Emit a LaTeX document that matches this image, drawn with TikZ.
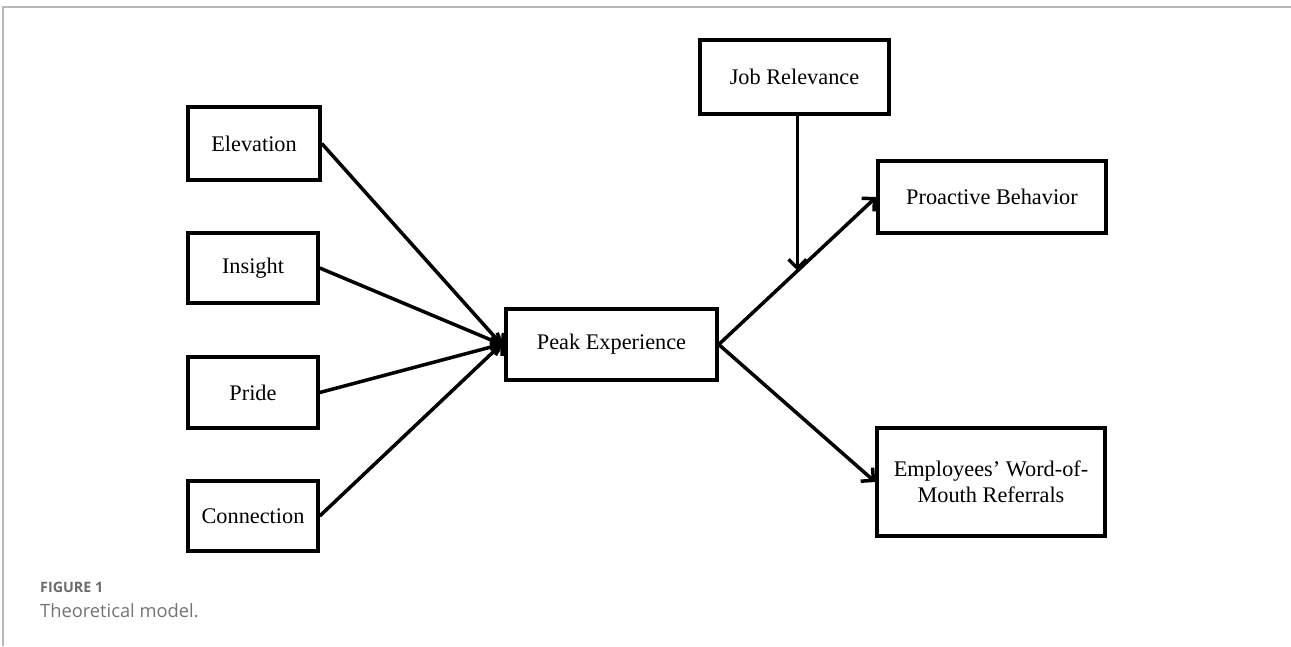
\documentclass[tikz,border=0pt]{standalone}
\usepackage{fontspec}
\setmainfont{Liberation Serif}
\newfontfamily\capfont{Open Sans}
\usetikzlibrary{arrows.meta,calc}
\begin{document}
\begin{tikzpicture}[x=1pt,y=-1pt,
  box/.style={draw=black,line width=3.5pt,align=center,inner sep=0pt,font=\fontsize{22.3}{26.5}\selectfont},
  conn/.style={line width=3.5pt,-{Straight Barb[length=9pt,width=18pt,line width=3.5pt]}},
  frame/.style={draw=black!28,line width=2pt}]
\useasboundingbox (0,0) rectangle (1291,646);
\draw[frame] (3,646) -- (3,7) -- (1291,7);
\node[box,minimum width=132pt,minimum height=73pt] (elev) at (254,143.5) {Elevation};
\node[box,minimum width=130pt,minimum height=70pt] (ins) at (253,268) {Insight};
\node[box,minimum width=130pt,minimum height=71pt] (pride) at (253,392.5) {Pride};
\node[box,minimum width=130pt,minimum height=70pt] (con) at (253,516) {Connection};
\node[box,minimum width=211pt,minimum height=71pt] (peak) at (611.5,344.5) {Peak Experience};
\node[box,minimum width=189pt,minimum height=74pt] (job) at (794.5,77) {Job Relevance};
\node[box,minimum width=228pt,minimum height=72pt] (pro) at (992,197) {Proactive Behavior};
\node[box,minimum width=228pt,minimum height=108pt] (emp) at (991,482) {Employees’ Word-of-\\Mouth Referrals};
\draw[conn] (elev.east) -- ([yshift=-3pt]peak.west);
\draw[conn] (ins.east) -- ([yshift=-1pt]peak.west);
\draw[conn] (pride.east) -- ([yshift=1pt]peak.west);
\draw[conn] (con.east) -- ([yshift=3pt]peak.west);
\draw[conn] (peak.east) -- (pro.west);
\draw[conn] (peak.east) -- (emp.west);
\coordinate (mid) at ($(peak.east)!0.5!(pro.west)$);
\draw[conn] (mid |- job.south) -- (mid);
\node[anchor=base west,inner sep=0pt,text=black!58,font=\capfont\bfseries\fontsize{14.3}{16}\selectfont] (fig) at (40,592) {FIGURE 1};
\node[anchor=base west,inner sep=0pt,text=black!55,font=\capfont\fontsize{18.3}{20}\selectfont] (cap) at (40,617) {Theoretical model.};
\end{tikzpicture}
\end{document}
